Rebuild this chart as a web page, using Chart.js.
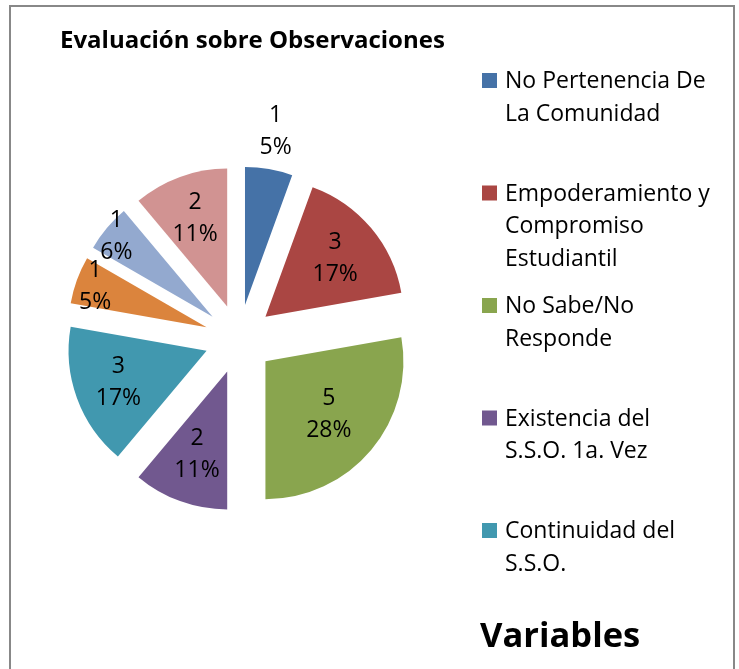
<!DOCTYPE html>
<html lang="es">
<head>
<meta charset="utf-8">
<title>Evaluación sobre Observaciones</title>
<script src="https://cdn.jsdelivr.net/npm/chart.js@4.4.1/dist/chart.umd.min.js"></script>
<style>
    html, body { margin: 0; padding: 0; background: #fff; }
    #wrap { width: 739px; height: 669px; }
</style>
</head>
<body>
<div id="wrap"><canvas id="pieChart" width="739" height="669"></canvas></div>
<script>
// Chart data (legend in the original only shows the first five names)
const categories = [
    ['No Pertenencia De', 'La Comunidad'],
    ['Empoderamiento y', 'Compromiso', 'Estudiantil'],
    ['No Sabe/No', 'Responde'],
    ['Existencia del', 'S.S.O. 1a. Vez'],
    ['Continuidad del', 'S.S.O.'],
    '', '', ''
];
const counts = [1, 3, 5, 2, 3, 1, 1, 2];
const percentLabels = ['5%', '17%', '28%', '11%', '17%', '5%', '6%', '11%'];
const sliceColors = ['#4572A7', '#AA4643', '#89A54E', '#71588F', '#4198AF', '#DB843D', '#93A9CF', '#D19392'];

const chartTitle = 'Evaluación sobre Observaciones';
const legendTitle = 'Variables';
const legendShown = 5;

// Look
const FONT = '"Open Sans", "Noto Sans", sans-serif';
const EXPLODE = 34.5;                                   // every slice pulled out by the same amount
const labelRadius = [1.28, 0.66, 0.6, 0.64, 0.68, 0.86, 0.91, 0.68]; // label distance, share of radius

// Pull each slice out along its middle angle (like Excel's exploded pie)
const explodePlugin = {
    id: 'explode',
    afterDatasetUpdate(chart, args) {
        args.meta.data.forEach(arc => {
            const mid = (arc.startAngle + arc.endAngle) / 2;
            arc.x += Math.cos(mid) * EXPLODE;
            arc.y += Math.sin(mid) * EXPLODE;
        });
    }
};

// Frame, title, legend and the "Variables" caption
const framePlugin = {
    id: 'frame',
    beforeDraw(chart) {
        const ctx = chart.ctx;
        ctx.save();
        ctx.fillStyle = '#fff';
        ctx.fillRect(0, 0, chart.width, chart.height);
        ctx.strokeStyle = '#888888';
        ctx.lineWidth = 2;
        ctx.strokeRect(10, 6, 724, 700);
        ctx.restore();
    },
    afterDraw(chart) {
        const ctx = chart.ctx;
        ctx.save();
        ctx.fillStyle = '#000';
        ctx.textBaseline = 'alphabetic';
        ctx.textAlign = 'left';

        ctx.font = 'bold 24px ' + FONT;
        ctx.fillText(chartTitle, 60, 48);

        ctx.font = '23px ' + FONT;
        for (let i = 0; i < legendShown; i++) {
            const base = 88 + i * 112.5;
            ctx.fillStyle = sliceColors[i];
            ctx.fillRect(482, base - 15, 15, 15);
            ctx.fillStyle = '#000';
            const lines = Array.isArray(categories[i]) ? categories[i] : [categories[i]];
            lines.forEach((line, j) => ctx.fillText(line, 505, base + j * 32.5));
        }

        ctx.font = 'bold 34.5px ' + FONT;
        ctx.fillText(legendTitle, 480, 647);
        ctx.restore();
    }
};

// Value + percent labels on the slices
const sliceLabelPlugin = {
    id: 'sliceLabels',
    afterDatasetsDraw(chart) {
        const ctx = chart.ctx;
        const meta = chart.getDatasetMeta(0);
        ctx.save();
        ctx.fillStyle = '#000';
        ctx.font = '23px ' + FONT;
        ctx.textAlign = 'center';
        ctx.textBaseline = 'middle';
        meta.data.forEach((arc, i) => {
            const mid = (arc.startAngle + arc.endAngle) / 2;
            const r = arc.outerRadius * labelRadius[i];
            const x = arc.x + Math.cos(mid) * r;
            const y = arc.y + Math.sin(mid) * r;
            ctx.fillText(String(counts[i]), x, y - 16);
            ctx.fillText(percentLabels[i], x, y + 16);
        });
        ctx.restore();
    }
};

new Chart(document.getElementById('pieChart'), {
    type: 'pie',
    data: {
        labels: categories,
        datasets: [{
            data: counts,
            backgroundColor: sliceColors,
            borderWidth: 0,
            hoverBorderWidth: 0,
            offset: 0,
            hoverOffset: 0
        }]
    },
    options: {
        responsive: false,
        animation: false,
        events: [],
        layout: { padding: { left: 101, top: 201, right: 362, bottom: 192 } },
        plugins: {
            legend: { display: false },
            title: { display: false },
            tooltip: { enabled: false }
        }
    },
    plugins: [explodePlugin, framePlugin, sliceLabelPlugin]
});
</script>
</body>
</html>
